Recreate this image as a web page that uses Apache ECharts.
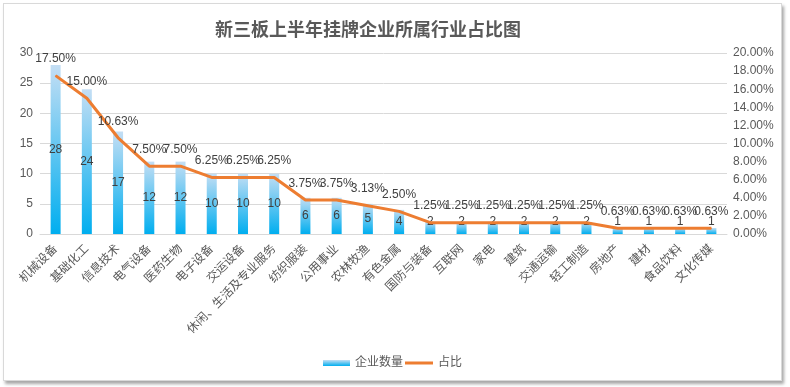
<!DOCTYPE html>
<html><head><meta charset="utf-8">
<script src="https://cdn.jsdelivr.net/npm/echarts@6/dist/echarts.min.js"></script>
<style>
html,body{margin:0;padding:0;background:#fff;}
#frame{position:absolute;left:3px;top:3px;width:777px;height:376px;border:1px solid #d9d9d9;box-shadow:2px 3px 3px rgba(0,0,0,0.35);background:#fff;}
#chart{position:absolute;left:0;top:0;width:790px;height:387px;}
</style></head>
<body>
<div id="frame"></div>
<div id="chart"></div>
<script>
const cats = ['机械设备','基础化工','信息技术','电气设备','医药生物','电子设备','交运设备','休闲、生活及专业服务','纺织服装','公用事业','农林牧渔','有色金属','国防与装备','互联网','家电','建筑','交通运输','轻工制造','房地产','建材','食品饮料','文化传媒'];
const counts = [28,24,17,12,12,10,10,10,6,6,5,4,2,2,2,2,2,2,1,1,1,1];
const shares = [17.50,15.00,10.63,7.50,7.50,6.25,6.25,6.25,3.75,3.75,3.13,2.50,1.25,1.25,1.25,1.25,1.25,1.25,0.63,0.63,0.63,0.63];
const leftTicks = {min:0,max:30,interval:5};
const rightTicks = {min:0,max:20,interval:2};

const font = 'Liberation Sans, Noto Sans CJK SC, sans-serif';
const chart = echarts.init(document.getElementById('chart'), null, {renderer:'canvas'});
const barColor = new echarts.graphic.LinearGradient(0,0,0,1,[{offset:0,color:'#c4def4'},{offset:1,color:'#00aeef'}]);
// small bars: Excel lifts the centred label so it stays readable
const barData = counts.map(v => v <= 2 ? {value:v, label:{position:'insideBottom', distance:6}} : v);
chart.setOption({
  animation:false,
  backgroundColor:'transparent',
  title:{text:'新三板上半年挂牌企业所属行业占比图',left:210,top:15,textStyle:{fontFamily:'Noto Sans CJK SC',fontSize:18,fontWeight:'bold',color:'#595959'}},
  legend:[
    {data:['企业数量'],left:318,top:352,itemWidth:27,itemHeight:6,itemGap:4,icon:'rect',textStyle:{fontFamily:font,fontSize:12,color:'#595959'}},
    {data:['占比'],left:400,top:352,itemWidth:28,itemHeight:3,icon:'rect',textStyle:{fontFamily:font,fontSize:12,color:'#595959'}}
  ],
  grid:{left:40,right:63,top:53,bottom:153,containLabel:false},
  xAxis:{type:'category',data:cats,axisLine:{lineStyle:{color:'#d9d9d9'}},axisTick:{show:false},
    axisLabel:{interval:0,rotate:45,margin:13,fontFamily:font,fontSize:12,color:'#595959'}},
  yAxis:[
    {type:'value',min:leftTicks.min,max:leftTicks.max,interval:leftTicks.interval,axisLine:{show:false},axisTick:{show:false},
      splitLine:{lineStyle:{color:'#d9d9d9'}},axisLabel:{margin:7,fontFamily:font,fontSize:12,color:'#595959'}},
    {type:'value',min:rightTicks.min,max:rightTicks.max,interval:rightTicks.interval,axisLine:{show:false},axisTick:{show:false},
      splitLine:{show:false},axisLabel:{margin:6,fontFamily:font,fontSize:12,color:'#595959',formatter:v=>v.toFixed(2)+'%'}}
  ],
  series:[
    {name:'企业数量',type:'bar',data:barData,barWidth:10,itemStyle:{color:barColor},
      label:{show:true,position:'inside',fontFamily:font,fontSize:12,color:'#404040'}},
    {name:'占比',type:'line',yAxisIndex:1,data:shares,symbol:'circle',symbolSize:1,showSymbol:true,
      lineStyle:{color:'#ed7d31',width:3},itemStyle:{color:'#ed7d31'},
      label:{show:true,position:'top',distance:10,fontFamily:font,fontSize:12,color:'#404040',formatter:p=>p.value.toFixed(2)+'%'}}
  ]
});
</script>
</body></html>
